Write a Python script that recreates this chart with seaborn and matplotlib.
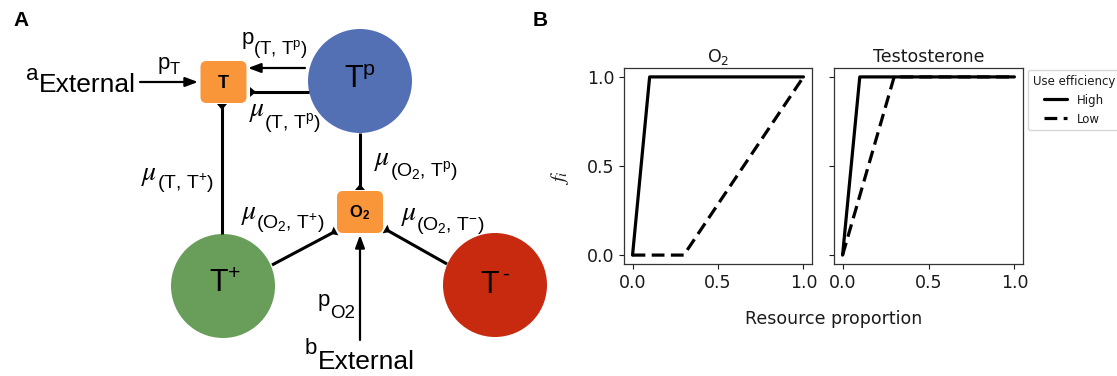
import numpy as np
import pandas as pd
import matplotlib
matplotlib.use("Agg")
import matplotlib.pyplot as plt
import seaborn as sns
from matplotlib.patches import Circle, FancyBboxPatch, Polygon

# panel B values
resource_levels = ["O$_2$", "Testosterone"]
efficiency_levels = ["High", "Low"]
o2_high_x = [0.0, 0.1, 1.0]
o2_high_f = [0.0, 1.0, 1.0]
o2_low_x = [0.0, 0.3, 1.0]
o2_low_f = [0.0, 0.0, 1.0]
testo_high_x = [0.0, 0.1, 1.0]
testo_high_f = [0.0, 1.0, 1.0]
testo_low_x = [0.0, 0.3, 1.0]
testo_low_f = [0.0, 1.0, 1.0]
x_ticks = [0.0, 0.5, 1.0]
y_ticks = [0.0, 0.5, 1.0]

sns.set_style("ticks")
plt.rcParams.update({
    "axes.linewidth": 0.9,
    "axes.edgecolor": "0.2",
    "xtick.color": "0.1",
    "ytick.color": "0.1",
    "text.color": "0.1",
    "axes.labelcolor": "0.1",
    "mathtext.rm": "Liberation Sans",
    "mathtext.it": "Liberation Sans:italic",
    "mathtext.bf": "Liberation Sans:bold",
    "mathtext.sf": "Liberation Sans",
})

rows = []
for res, eff, xs, fs in [
    ("O$_2$", "High", o2_high_x, o2_high_f),
    ("O$_2$", "Low", o2_low_x, o2_low_f),
    ("Testosterone", "High", testo_high_x, testo_high_f),
    ("Testosterone", "Low", testo_low_x, testo_low_f),
]:
    for x, f in zip(xs, fs):
        rows.append({"resource": res, "Use efficiency": eff, "proportion": x, "f": f})
df = pd.DataFrame(rows)

W, H = 1117, 376
fig = plt.figure(figsize=(W / 100, H / 100), dpi=100)

# ---- panel B ----
ax1 = fig.add_axes([624 / W, 112 / H, 188 / W, 196 / H])
ax2 = fig.add_axes([834 / W, 112 / H, 189 / W, 196 / H], sharey=ax1)
for ax, res in zip([ax1, ax2], resource_levels):
    sns.lineplot(data=df[df.resource == res], x="proportion", y="f",
                 style="Use efficiency", style_order=efficiency_levels,
                 dashes={"High": "", "Low": (4, 2)},
                 color="black", lw=2.3, ax=ax, legend=(ax is ax2),
                 estimator=None, sort=False)
    ax.set_title(res, fontsize=12.5, pad=4)
    ax.set_xlabel("")
    ax.set_ylabel("")
    ax.set_xticks(x_ticks)
    ax.set_yticks(y_ticks)
    ax.tick_params(labelsize=12.5)
ax2.tick_params(labelleft=False)
ax1.set_ylabel("$f_i$", fontsize=15, math_fontfamily="stix")
ax1.yaxis.set_label_coords(-0.28, 0.44)
fig.text(834 / W, 1 - 319 / H, "Resource proportion", fontsize=12.5,
         ha="center", va="center")

h, l = ax2.get_legend_handles_labels()
ax2.legend(h, l, title="Use efficiency", loc="upper left",
           bbox_to_anchor=(1028 / W, 1 - 70 / H), bbox_transform=fig.transFigure,
           borderaxespad=0, fontsize=8.5, title_fontsize=8.5)

# ---- panel A: diagram in pixel units ----
axd = fig.add_axes([0, 0, 560 / W, 1])
axd.set_xlim(0, 560)
axd.set_ylim(H, 0)
axd.axis("off")

mt = dict(math_fontfamily="custom", family="Liberation Sans", color="black")

node_centers = {"Tp": (360, 81), "Tplus": (223, 286), "Tminus": (495, 285)}
node_colors = {"Tp": "#5470b4", "Tplus": "#689e5a", "Tminus": "#c82a10"}
for k, (cx, cy) in node_centers.items():
    axd.add_patch(Circle((cx, cy), 52, fc=node_colors[k], ec="none"))

box_centers = {"T": (223.5, 82), "O2": (360, 212)}
for cx, cy in box_centers.values():
    axd.add_patch(FancyBboxPatch((cx - 23, cy - 21), 46, 42,
                                 boxstyle="round,pad=0,rounding_size=6",
                                 fc="#f9963a", ec="none"))


def edge(p0, p1, kind):
    p0 = np.array(p0, float)
    p1 = np.array(p1, float)
    if kind == "arrow":
        axd.annotate("", xy=p1, xytext=p0,
                     arrowprops=dict(arrowstyle="-|>,head_length=0.75,head_width=0.28",
                                     color="black", lw=1.6, shrinkA=0, shrinkB=0,
                                     mutation_scale=10))
    else:
        d = (p1 - p0) / np.hypot(*(p1 - p0))
        n = np.array([-d[1], d[0]])
        axd.plot([p0[0], p1[0] - 3 * d[0]], [p0[1], p1[1] - 3 * d[1]],
                 color="black", lw=2.2, solid_capstyle="butt")
        axd.add_patch(Polygon([p1 + 5 * n, p1 - 5 * n, p1 - 6 * d],
                              closed=True, fc="black", ec="none"))


edge((140, 82), (198, 82), "arrow")
edge((305, 68), (248, 68), "arrow")
edge((309, 92), (250, 92), "tee")
edge((360, 133), (360, 190), "tee")
edge((222, 234), (222, 104), "tee")
edge((272, 265), (336, 231), "tee")
edge((447, 264), (385, 229), "tee")
edge((360, 340), (360, 235), "arrow")

# node labels
axd.text(360, 80, r"T$^{\mathrm{p}}$", fontsize=22, ha="center", va="center", **mt)
axd.text(225, 284, r"T$^{+}$", fontsize=22, ha="center", va="center", **mt)
axd.text(490, 285, "T", fontsize=22, ha="center", va="center", **mt)
axd.text(506, 274, "-", fontsize=15, ha="center", va="center", **mt)
axd.text(223, 84, "T", fontsize=13, fontweight="bold", ha="center", va="center", **mt)
axd.text(360, 213, r"$\mathbf{O_2}$", fontsize=12, ha="center", va="center", **mt)

# edge labels: main symbol (x, baseline) and its subscript (x, baseline)
edge_labels = [
    ("p", 158, 69, 16, "T", 170, 74, 12),
    ("p", 242, 44, 16, r"(T, T$^{\mathrm{p}}$)", 253, 54, 13.5),
    ("mu", 249, 116, 20, r"(T, T$^{\mathrm{p}}$)", 264, 128, 14),
    ("mu", 141, 180, 20, r"(T, T$^{+}$)", 157, 189, 14),
    ("mu", 374, 165, 20, r"(O$_2$, T$^{\mathrm{p}}$)", 390, 176, 14),
    ("mu", 241, 219, 20, r"(O$_2$, T$^{+}$)", 256, 229, 14),
    ("mu", 401, 220, 20, r"(O$_2$, T$^{-}$)", 416, 230, 14),
    ("p", 318, 306, 16, "O2", 330, 318, 13.5),
]
for main, mx, my, mfs, sub, sx, sy, sfs in edge_labels:
    if main == "mu":
        axd.text(mx, my, r"$\mu$", fontsize=mfs, ha="left", va="baseline",
                 math_fontfamily="stix", color="black")
    else:
        axd.text(mx, my, main, fontsize=mfs, ha="left", va="baseline", **mt)
    axd.text(sx, sy, sub, fontsize=sfs, ha="left", va="baseline", **mt)

axd.text(26, 80, "a", fontsize=16, ha="left", va="baseline", **mt)
axd.text(39, 92, "External", fontsize=19, ha="left", va="baseline", **mt)
axd.text(305, 354, "b", fontsize=16, ha="left", va="baseline", **mt)
axd.text(318, 369, "External", fontsize=19, ha="left", va="baseline", **mt)

axd.text(21, 21, "A", fontsize=15, fontweight="bold", ha="center", va="center", **mt)
axd.text(540, 21, "B", fontsize=15, fontweight="bold", ha="center", va="center", **mt)

fig.savefig("out.png", dpi=100)
